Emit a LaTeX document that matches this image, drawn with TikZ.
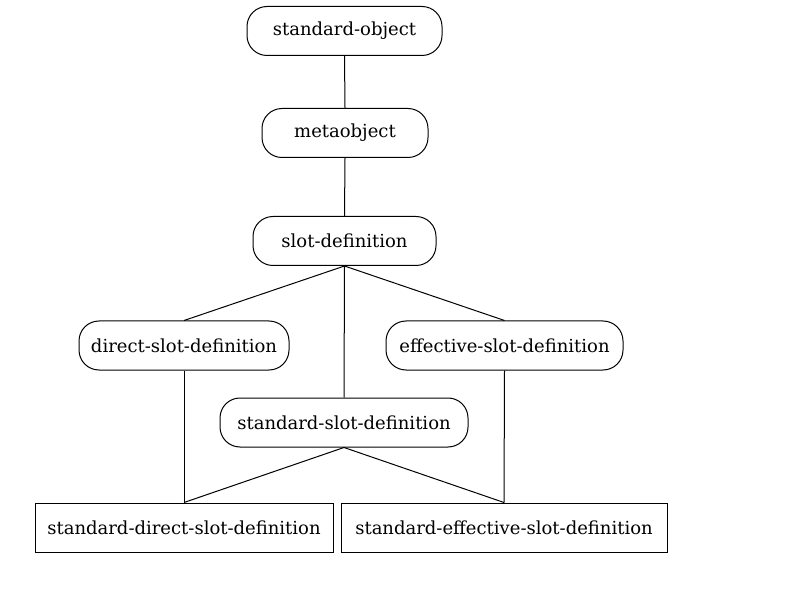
\documentclass[tikz,border=0pt]{standalone}
\usepackage{fontspec}
\setmainfont{DejaVu Serif}
\begin{document}
\begin{tikzpicture}[x=1pt,y=-1pt,
  cls/.style={draw,line width=1pt,rounded corners=20pt,minimum height=49pt,inner sep=0pt,font=\fontsize{18}{21}\selectfont},
  box/.style={draw,line width=1pt,minimum height=49pt,inner sep=0pt,font=\fontsize{18}{21}\selectfont},
  edge/.style={line width=1pt}]
\useasboundingbox (0,0) rectangle (800,609);
\node[cls,minimum width=195pt] (so) at (344.5,31) {standard-object};
\node[cls,minimum width=166pt] (mo) at (345,133) {metaobject};
\node[cls,minimum width=183pt] (sd) at (344.5,241) {slot-definition};
\node[cls,minimum width=210pt] (dsd) at (184,345.5) {direct-slot-definition};
\node[cls,minimum width=237pt] (esd) at (504.5,345.5) {effective-slot-definition};
\node[cls,minimum width=248pt] (ssd) at (344,422.5) {standard-slot-definition};
\node[box,minimum width=298pt] (sdsd) at (184,527.5) {standard-direct-slot-definition};
\node[box,minimum width=326pt] (sesd) at (504,527.5) {standard-effective-slot-definition};
\draw[edge] (so.south) -- (mo.north);
\draw[edge] (mo.south) -- (sd.north);
\draw[edge] (sd.south) -- (dsd.north);
\draw[edge] (sd.south) -- (esd.north);
\draw[edge] (sd.south) -- (ssd.north);
\draw[edge] (dsd.south) -- (sdsd.north);
\draw[edge] (esd.south) -- (sesd.north);
\draw[edge] (ssd.south) -- (sdsd.north);
\draw[edge] (ssd.south) -- (sesd.north);
\end{tikzpicture}
\end{document}
